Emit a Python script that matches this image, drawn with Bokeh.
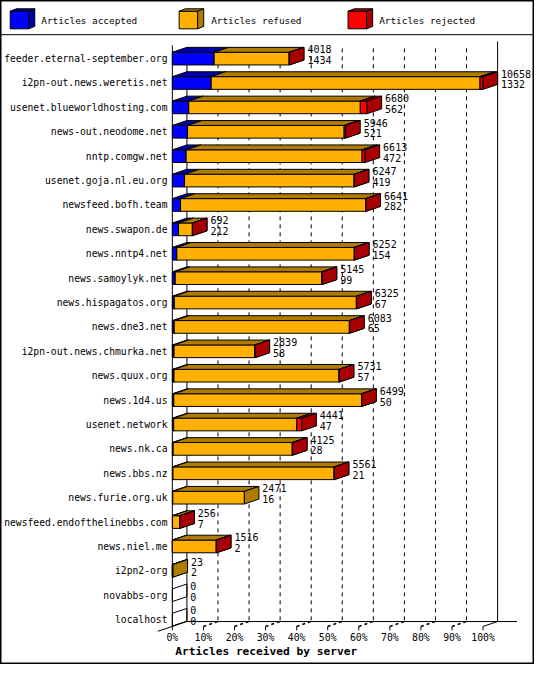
from bokeh.plotting import figure
from bokeh.models import Range1d, ColumnDataSource
from bokeh.core.properties import value
from bokeh.embed import file_html
from bokeh.resources import INLINE

# ---------------- data ----------------
servers = [
    "feeder.eternal-september.org", "i2pn-out.news.weretis.net", "usenet.blueworldhosting.com",
    "news-out.neodome.net", "nntp.comgw.net", "usenet.goja.nl.eu.org", "newsfeed.bofh.team",
    "news.swapon.de", "news.nntp4.net", "news.samoylyk.net", "news.hispagatos.org", "news.dne3.net",
    "i2pn-out.news.chmurka.net", "news.quux.org", "news.1d4.us", "usenet.network", "news.nk.ca",
    "news.bbs.nz", "news.furie.org.uk", "newsfeed.endofthelinebbs.com", "news.niel.me",
    "i2pn2-org", "novabbs-org", "localhost",
]
offered = [4018, 10658, 6680, 5946, 6613, 6247, 6641, 692, 6252, 5145, 6325, 6083,
           2839, 5731, 6499, 4441, 4125, 5561, 2471, 256, 1516, 23, 0, 0]
accepted = [1434, 1332, 562, 521, 472, 419, 282, 212, 154, 99, 67, 65,
            58, 57, 50, 47, 28, 21, 16, 7, 2, 2, 0, 0]
rejected = [10, 100, 230, 50, 100, 10, 10, 5, 10, 10, 12, 10,
            5, 10, 10, 170, 10, 10, 0, 5, 10, 0, 0, 0]
tick_values = [0, 10, 20, 30, 40, 50, 60, 70, 80, 90, 100]
tick_labels = ["0%", "10%", "20%", "30%", "40%", "50%", "60%", "70%", "80%", "90%", "100%"]
legend_labels = ["Articles accepted", "Articles refused", "Articles rejected"]
x_title = "Articles received by server"

# ---------------- style / layout ----------------
front_col = ["#0000ff", "#ffb000", "#ff0000"]
dark_col = ["#0000a8", "#b07c00", "#a80000"]
FONT = value("DejaVu Sans Mono")

REF_W, REF_H = 550, 680
PX_PER_PCT = 3.2
X0_PX = 177.0
ROW_PX = 24.98
Y0_PX = 59.5


def xd(px):
    return (px - X0_PX) / PX_PER_PCT


def yd(py):
    return (py - Y0_PX) / ROW_PX


DX = 15 / PX_PER_PCT
DY = 5 / ROW_PX
HALF = 6.5 / ROW_PX

p = figure(width=534, height=664,
           x_range=Range1d(xd(0), xd(REF_W)), y_range=Range1d(yd(REF_H), yd(0)),
           x_axis_type=None, y_axis_type=None,
           output_backend="svg", toolbar_location=None, min_border=0)
p.outline_line_color = "black"
p.outline_line_width = 2
p.background_fill_color = "white"
p.border_fill_color = "white"
for g in list(p.xgrid) + list(p.ygrid):
    g.visible = False

# ---------------- frame lines ----------------
floor_f = yd(641)
floor_b = yd(636)
# dashed back grid lines
gx = [v + DX for v in tick_values[1:-1]]
p.segment(x0=gx, y0=[yd(49)] * len(gx), x1=gx, y1=[floor_b] * len(gx),
          line_color="black", line_dash="4 4", line_width=1)
# dashed floor lines
fx0 = tick_values[1:-1]
p.segment(x0=fx0, y0=[floor_f] * len(fx0), x1=[v + DX for v in fx0], y1=[floor_b] * len(fx0),
          line_color="black", line_dash="3 3", line_width=1.5)
# tick marks
p.segment(x0=tick_values, y0=[floor_f] * len(tick_values), x1=tick_values,
          y1=[yd(645)] * len(tick_values), line_color="black")
# solid walls / floor / separator
sx0 = [0, DX, 100 + DX, DX, -DX, 100, xd(0)]
sy0 = [yd(46), yd(49), yd(42), floor_b, yd(646), floor_f, yd(35)]
sx1 = [0, DX, 100 + DX, xd(532), DX, 100 + DX, xd(REF_W)]
sy1 = [floor_f, floor_b, floor_b, floor_b, floor_b, floor_b, yd(35)]
p.segment(x0=sx0, y0=sy0, x1=sx1, y1=sy1, line_color="black", line_width=1)

# ---------------- bars ----------------
vmax = max(offered)
bx, by, bc = [], [], []
zx, zy = [], []
lab_x, lab_top, lab_bot, lab_t1, lab_t2 = [], [], [], [], []
for i, name in enumerate(servers):
    top, bot = i - HALF, i + HALF
    total = offered[i]
    end = total / vmax * 100
    if total == 0:
        zx.append([0, DX, DX, 0])
        zy.append([top, top - DY, bot - DY, bot])
    else:
        refused = total - accepted[i] - rejected[i]
        segs = [accepted[i], refused, rejected[i]]
        left = 0.0
        for k, v in enumerate(segs):
            if v <= 0:
                continue
            right = left + v / vmax * 100
            bx.append([left, right, right, left]); by.append([top, top, bot, bot]); bc.append(front_col[k])
            bx.append([left, right, right + DX, left + DX]); by.append([top, top, top - DY, top - DY]); bc.append(dark_col[k])
            bx.append([right, right + DX, right + DX, right]); by.append([top, top - DY, bot - DY, bot]); bc.append(dark_col[k])
            left = right
    lab_x.append(end + DX + 3.5 / PX_PER_PCT)
    lab_top.append(i - 9.5 / ROW_PX)
    lab_bot.append(i + 1.5 / ROW_PX)
    lab_t1.append(str(offered[i]))
    lab_t2.append(str(accepted[i]))

p.patches(xs="xs", ys="ys", fill_color="c", line_color="black", line_width=1,
          source=ColumnDataSource(dict(xs=bx, ys=by, c=bc)))
p.patches(xs=zx, ys=zy, fill_alpha=0, line_color="black", line_width=1)

# ---------------- texts ----------------
p.text(x=lab_x, y=lab_top, text=lab_t1, text_font=FONT, text_font_size="10px",
       text_baseline="middle", text_align="left", text_color="black")
p.text(x=lab_x, y=lab_bot, text=lab_t2, text_font=FONT, text_font_size="10px",
       text_baseline="middle", text_align="left", text_color="black")
p.text(x=[xd(172)] * len(servers), y=list(range(len(servers))), text=servers,
       text_font=FONT, text_font_size="9.7px", text_baseline="middle", text_align="right",
       text_color="black")
p.text(x=tick_values, y=[yd(652)] * len(tick_values), text=tick_labels,
       text_font=FONT, text_font_size="9.8px", text_baseline="middle", text_align="center",
       text_color="black")
p.text(x=[xd(180)], y=[yd(667)], text=[x_title], text_font=FONT, text_font_size="11.2px",
       text_font_style="bold", text_baseline="middle", text_align="left", text_color="black")

# ---------------- legend (3D cubes) ----------------
leg_px = [10, 184, 358]
leg_text_px = [42, 217, 390]
lx, ly, lc = [], [], []
for k in range(3):
    a, b = leg_px[k], leg_px[k] + 19
    t, u = 11, 29
    lx.append([xd(a), xd(b), xd(b), xd(a)]); ly.append([yd(t), yd(t), yd(u), yd(u)]); lc.append(front_col[k])
    lx.append([xd(a), xd(b), xd(b + 6.3), xd(a + 6.3)]); ly.append([yd(t), yd(t), yd(t - 2.5), yd(t - 2.5)]); lc.append(dark_col[k])
    lx.append([xd(b), xd(b + 6.3), xd(b + 6.3), xd(b)]); ly.append([yd(t), yd(t - 2.5), yd(u - 2.5), yd(u)]); lc.append(dark_col[k])
p.patches(xs="xs", ys="ys", fill_color="c", line_color="black", line_width=1,
          source=ColumnDataSource(dict(xs=lx, ys=ly, c=lc)))
p.text(x=[xd(v) for v in leg_text_px], y=[yd(20)] * 3, text=legend_labels,
       text_font=FONT, text_font_size="9.4px", text_baseline="middle", text_align="left",
       text_color="black")

open("out.html", "w").write(file_html(p, INLINE))
